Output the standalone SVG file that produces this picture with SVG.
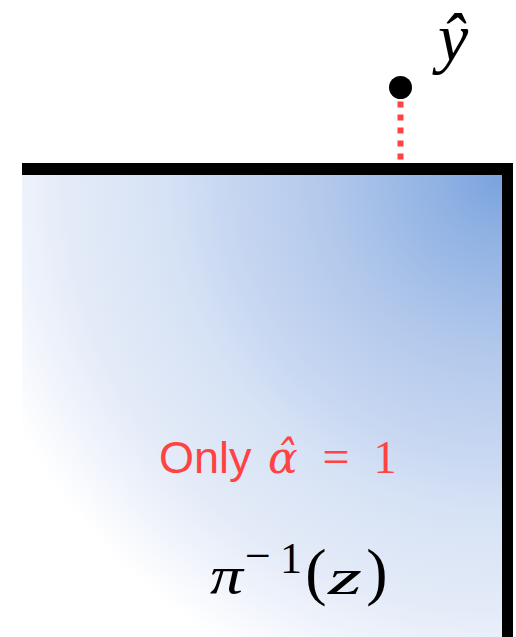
<svg xmlns="http://www.w3.org/2000/svg" width="516" height="637" viewBox="0 0 516 637">
  <defs>
    <radialGradient id="fillGrad" gradientUnits="userSpaceOnUse" cx="502" cy="175" r="545">
      <stop offset="0" stop-color="#7AA2DE"/>
      <stop offset="0.1" stop-color="#8DB0E3"/>
      <stop offset="0.32" stop-color="#B2C8EB"/>
      <stop offset="0.52" stop-color="#C9D8F2"/>
      <stop offset="0.62" stop-color="#D6E2F5"/>
      <stop offset="0.8" stop-color="#E4EBF8"/>
      <stop offset="0.89" stop-color="#EFF3FB"/>
      <stop offset="1" stop-color="#FFFFFF"/>
    </radialGradient>
    <style>
      .math { font-family: "Liberation Serif", "DejaVu Serif", serif; }
      .it { font-style: italic; }
      .red { fill: #FF4242; }
      .blk { fill: #000000; }
    </style>
  </defs>
  <rect width="516" height="637" fill="#FFFFFF"/>
  <g id="region">
    <rect x="22" y="175" width="480" height="462" fill="url(#fillGrad)"/>
    <rect x="22" y="163" width="491" height="12" fill="#000000"/>
    <rect x="502" y="163" width="11" height="474" fill="#000000"/>
  </g>
  <g id="connectors">
    <line x1="400.5" y1="101.5" x2="400.5" y2="163" stroke="#FF4242" stroke-width="6" stroke-dasharray="6 7"/>
  </g>
  <g id="point">
    <circle cx="400.5" cy="87.5" r="11.5" fill="#000000"/>
    <text x="453" y="61" class="math it blk" font-size="68" text-anchor="middle">ŷ</text>
  </g>
  <g id="label-only">
    <text x="159" y="473" class="red" font-family="Liberation Sans, Arial, sans-serif" font-size="45">Only</text>
    <text x="268" y="473" class="it red" font-family="DejaVu Serif, serif" font-size="44">α&#x302;</text>
    <text x="336" y="473" class="math red" font-size="48" text-anchor="middle">=</text>
    <text x="385" y="473" class="math red" font-size="46" text-anchor="middle">1</text>
  </g>
  <g id="label-preimage">
    <text x="210" y="593" class="math it blk" font-size="52" textLength="33" lengthAdjust="spacingAndGlyphs">π</text>
    <text x="258" y="571" class="math blk" font-size="46" text-anchor="middle">−</text>
    <text x="291" y="573" class="math blk" font-size="44" text-anchor="middle">1</text>
    <text x="316" y="593" class="math blk" font-size="64" text-anchor="middle">(</text>
    <text x="328" y="594" class="math it blk" font-size="50" textLength="34" lengthAdjust="spacingAndGlyphs">z</text>
    <text x="377" y="593" class="math blk" font-size="64" text-anchor="middle">)</text>
  </g>
</svg>
